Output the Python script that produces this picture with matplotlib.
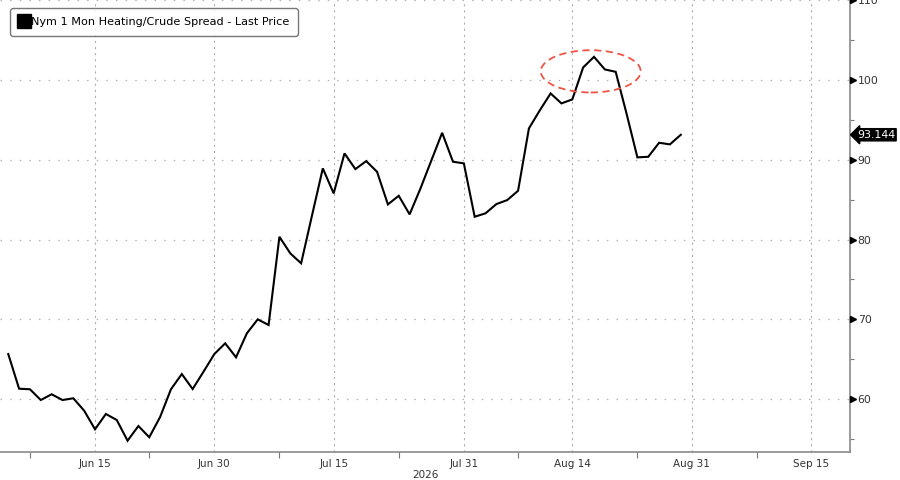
import numpy as np
import pandas as pd
import matplotlib
matplotlib.use("Agg")
import matplotlib.pyplot as plt
from matplotlib.lines import Line2D
from matplotlib.patches import Ellipse
import matplotlib.transforms as mtransforms

# ---------------- data ----------------
start_date = "2026-06-03"
values = [
    65.64, 61.29, 61.22, 59.87, 60.59, 59.87, 60.09, 58.53, 56.20, 58.12,
    57.37, 54.77, 56.61, 55.20, 57.74, 61.22, 63.13, 61.25, 63.42, 65.64,
    66.98, 65.23, 68.24, 69.99, 69.28, 80.35, 78.27, 77.02, 83.00, 88.93,
    85.79, 90.81, 88.84, 89.84, 88.50, 84.41, 85.49, 83.16, 86.40, 89.90,
    93.39, 89.76, 89.56, 82.86, 83.29, 84.45, 84.95, 86.12, 93.94, 96.20,
    98.33, 97.08, 97.58, 101.59, 102.92, 101.34, 101.04, 95.80, 90.31, 90.38,
    92.14, 91.94, 93.144,
]
tick_dates = ["2026-06-15", "2026-06-30", "2026-07-15", "2026-07-31",
              "2026-08-14", "2026-08-31", "2026-09-15"]
tick_labels = ["Jun 15", "Jun 30", "Jul 15", "Jul 31", "Aug 14", "Aug 31", "Sep 15"]
minor_dates = ["2026-06-05", "2026-06-22", "2026-07-08", "2026-07-23",
               "2026-08-07", "2026-08-24", "2026-09-08"]
y_ticks = [60, 70, 80, 90, 100, 110]
y_minor = [55, 65, 75, 85, 95, 105]
legend_label = "Nym 1 Mon Heating/Crude Spread - Last Price"
year_label = "2026"
highlight_center = ("2026-08-18", 101.1)

# ---------------- positions on a business-day axis ----------------
calendar = pd.bdate_range(start_date, "2026-09-30")
def pos(d):
    return float(calendar.get_loc(pd.Timestamp(d)))

x = np.arange(len(values))

plt.rcParams["font.family"] = ["DejaVu Sans"]
fig = plt.figure(figsize=(9, 4.8), dpi=100)
ax = fig.add_axes([0.0, 28 / 480, 850 / 900, 452 / 480])

ax.plot(x, values, color="black", lw=1.5, solid_joinstyle="miter", zorder=3)

ax.set_xlim(-0.76, 77.6)
ax.set_ylim(53.35, 110.05)

# spines
for s in ("left", "top"):
    ax.spines[s].set_visible(False)
for s in ("right", "bottom"):
    ax.spines[s].set_color("#8a8a8a")
    ax.spines[s].set_linewidth(1.2)

# x ticks
xt = [pos(d) for d in tick_dates]
ax.set_xticks(xt)
ax.set_xticklabels(tick_labels)
ax.set_xticks([pos(d) for d in minor_dates], minor=True)
ax.tick_params(axis="x", which="major", length=0, pad=5, labelsize=7.5, colors="#333333")
ax.tick_params(axis="x", which="minor", length=4, width=0.8, color="#777777", direction="out")
for xv in xt:
    ax.axvline(xv, color="#b0b0b0", lw=0.8, ls=(0, (2, 3.5)), zorder=1)

# y ticks on right
ax.yaxis.tick_right()
ax.set_yticks(y_ticks)
ax.set_yticklabels([str(v) for v in y_ticks])
ax.set_yticks(y_minor, minor=True)
ax.tick_params(axis="y", which="major", length=0, pad=5.5, labelsize=7.8, colors="#333333")
ax.tick_params(axis="y", which="minor", length=3, width=0.8, color="#777777", direction="out")
for yv in y_ticks:
    ax.axhline(yv, color="#b0b0b0", lw=0.9, ls=(0, (1.2, 6.5)), zorder=1)
trans = mtransforms.blended_transform_factory(ax.transAxes, ax.transData)
tri_off = mtransforms.offset_copy(trans, fig=fig, x=3, y=0, units="dots")
ax.plot([1.0] * len(y_ticks), y_ticks, ls="none", marker=">", ms=4.2,
        color="black", transform=tri_off, clip_on=False, zorder=5)

ax.set_xlabel(year_label, fontsize=7.5, color="#333333", labelpad=1)

# last price label
last = values[-1]
ax.annotate(f"{last:.3f}", xy=(1.0, last), xycoords=trans,
            xytext=(5, 0), textcoords="offset points",
            ha="left", va="center", fontsize=7.9, color="white",
            bbox=dict(boxstyle="larrow,pad=0.1", fc="black", ec="black"),
            annotation_clip=False, zorder=6)

# highlight ellipse
ell = Ellipse((pos(highlight_center[0]) - 0.3, highlight_center[1]), width=9.2, height=5.3,
              fill=False, ec="#f05545", lw=1.3, ls=(0, (4, 2.5)), zorder=4)
ax.add_patch(ell)

# legend
handle = Line2D([], [], marker="s", ls="none", color="black", markersize=9.5)
leg = fig.legend([handle], [legend_label], loc="upper left",
                 bbox_to_anchor=(10 / 900, 1 - 8 / 480), fontsize=8.1,
                 frameon=True, fancybox=True, edgecolor="#555555",
                 handlelength=0.8, handletextpad=0.25, borderpad=0.8,
                 borderaxespad=0)
leg.get_frame().set_linewidth(1.0)
leg.get_frame().set_boxstyle("round,pad=0,rounding_size=0.3")

fig.savefig("out.png", dpi=100)
